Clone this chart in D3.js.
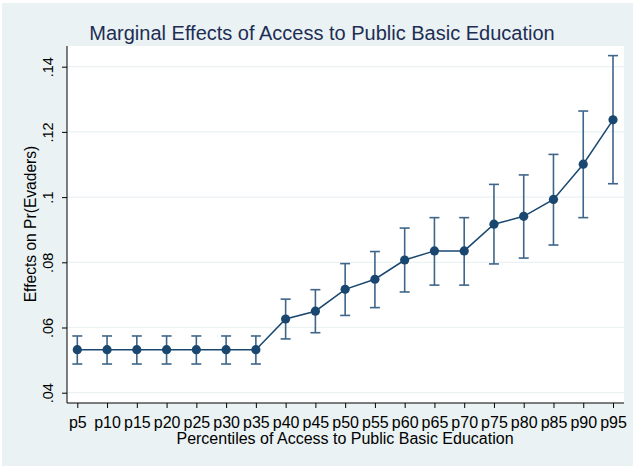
<!DOCTYPE html>
<html>
<head>
<meta charset="utf-8">
<script src="https://cdn.jsdelivr.net/npm/d3@7"></script>
<style>
  html, body { margin: 0; padding: 0; background: #ffffff; }
  svg { display: block; font-family: "Liberation Sans", Arial, Helvetica, sans-serif; }
</style>
</head>
<body>
<svg id="chart" width="633" height="466"></svg>
<script>
// Percentile categories of access to public basic education
const categories = ["p5","p10","p15","p20","p25","p30","p35","p40","p45","p50",
                    "p55","p60","p65","p70","p75","p80","p85","p90","p95"];
// Marginal effect estimates and 95% confidence bounds
const effects = [0.0532,0.0532,0.0532,0.0532,0.0532,0.0532,0.0532,0.0626,0.0650,0.0717,
                 0.0748,0.0807,0.0835,0.0835,0.0917,0.0941,0.0993,0.1101,0.1237];
const upper   = [0.0574,0.0574,0.0574,0.0574,0.0574,0.0574,0.0574,0.0687,0.0716,0.0796,
                 0.0833,0.0905,0.0937,0.0937,0.1039,0.1068,0.1131,0.1264,0.1434];
const lower   = [0.0488,0.0488,0.0488,0.0488,0.0488,0.0488,0.0488,0.0565,0.0584,0.0637,
                 0.0661,0.0709,0.0730,0.0730,0.0795,0.0813,0.0853,0.0937,0.1041];
const yTicks = [0.04, 0.06, 0.08, 0.10, 0.12, 0.14];
const yTickLabels = [".04", ".06", ".08", ".1", ".12", ".14"];

const W = 633, H = 466;
const plot = { left: 67, right: 624, top: 46, bottom: 403 };

const svg = d3.select("#chart");

// Graph region and plot region backgrounds
svg.append("rect").attr("x", 0).attr("y", 0).attr("width", W).attr("height", H).attr("fill", "#ffffff");
svg.append("rect").attr("x", 2).attr("y", 3).attr("width", W - 2).attr("height", H - 3).attr("fill", "#eaf2f3");
svg.append("rect").attr("x", plot.left).attr("y", plot.top)
   .attr("width", plot.right - plot.left).attr("height", plot.bottom - plot.top)
   .attr("fill", "#ffffff");

const x = d3.scalePoint().domain(categories).range([77.3, 613]);
const y = d3.scaleLinear().domain([0.04, 0.14]).range([392.7, 66.7]);

// Horizontal grid lines
svg.append("g").selectAll("line").data(yTicks).join("line")
  .attr("x1", plot.left).attr("x2", plot.right)
  .attr("y1", d => y(d)).attr("y2", d => y(d))
  .attr("stroke", "#eaf2f3").attr("stroke-width", 1.2);

// Y axis with rotated tick labels
const yAxis = d3.axisLeft(y).tickValues(yTicks)
  .tickFormat((d, i) => yTickLabels[i]).tickSize(5);
const gy = svg.append("g").attr("transform", `translate(${plot.left},0)`).call(yAxis);
gy.select(".domain").attr("d", `M0,${plot.top}V${plot.bottom}`).attr("stroke", "#000").attr("stroke-width", 1);
gy.selectAll(".tick line").attr("stroke", "#000");
gy.selectAll(".tick text")
  .attr("font-size", 14.5).attr("fill", "#000")
  .attr("text-anchor", "middle")
  .attr("transform", "rotate(-90)")
  .attr("x", 0).attr("y", -14).attr("dy", 0);

// X axis
const xAxis = d3.axisBottom(x).tickSize(5).tickPadding(0);
const gx = svg.append("g").attr("transform", `translate(0,${plot.bottom})`).call(xAxis);
gx.select(".domain").attr("d", `M${plot.left},0H${plot.right}`).attr("stroke", "#000").attr("stroke-width", 1);
gx.selectAll(".tick line").attr("stroke", "#000");
gx.selectAll(".tick text").attr("font-size", 16).attr("fill", "#000")
  .attr("y", 24.5).attr("dy", 0);
svg.selectAll(".tick text").attr("font-family", "'Liberation Sans', Arial, sans-serif");

// Confidence intervals
const ci = svg.append("g").attr("stroke", "#3f6589").attr("stroke-width", 1.6).attr("fill", "none");
categories.forEach((c, i) => {
  const cx = x(c);
  ci.append("line").attr("x1", cx).attr("x2", cx).attr("y1", y(lower[i])).attr("y2", y(upper[i]));
  ci.append("line").attr("x1", cx - 5).attr("x2", cx + 5).attr("y1", y(lower[i])).attr("y2", y(lower[i]));
  ci.append("line").attr("x1", cx - 5).attr("x2", cx + 5).attr("y1", y(upper[i])).attr("y2", y(upper[i]));
});

// Connected estimates
const line = d3.line().x((d, i) => x(categories[i])).y(d => y(d));
svg.append("path").datum(effects).attr("d", line)
  .attr("fill", "none").attr("stroke", "#1a476f").attr("stroke-width", 1.5);
svg.append("g").selectAll("circle").data(effects).join("circle")
  .attr("cx", (d, i) => x(categories[i])).attr("cy", d => y(d))
  .attr("r", 4.6).attr("fill", "#1a476f");

// Titles
svg.append("text").attr("x", 322).attr("y", 40).attr("text-anchor", "middle")
  .attr("font-size", 20).attr("fill", "#1e2d53")
  .text("Marginal Effects of Access to Public Basic Education");
svg.append("text").attr("x", 345).attr("y", 444).attr("text-anchor", "middle")
  .attr("font-size", 16).attr("fill", "#000")
  .text("Percentiles of Access to Public Basic Education");
svg.append("text").attr("transform", `translate(36,224) rotate(-90)`)
  .attr("text-anchor", "middle").attr("font-size", 15.6).attr("fill", "#000")
  .text("Effects on Pr(Evaders)");
</script>
</body>
</html>
